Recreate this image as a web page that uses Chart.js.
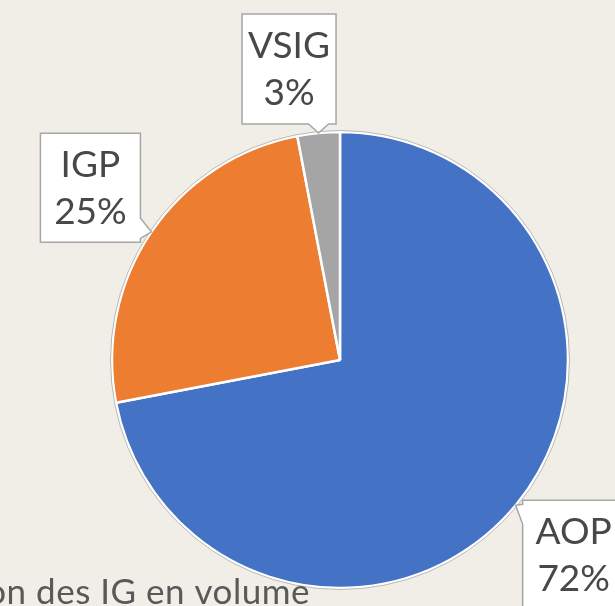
<!DOCTYPE html>
<html>
<head>
<meta charset="utf-8">
<script src="https://cdn.jsdelivr.net/npm/chart.js@4.4.1/dist/chart.umd.min.js"></script>
<style>
  html, body { margin: 0; padding: 0; background: #F1EEE8; }
  #wrap { width: 615px; height: 606px; overflow: hidden; }
</style>
</head>
<body>
<div id="wrap"><canvas id="c" width="615" height="606"></canvas></div>
<script>
// ---- data ----
const categories = ['AOP', 'IGP', 'VSIG'];
const shares = [72, 25, 3];
const percentLabels = ['72%', '25%', '3%'];
const colors = ['#4472C4', '#ED7D31', '#A5A5A5'];
const titleText = 'Répartition des IG en volume';

// callout layout (box center offset from the slice's outer-edge midpoint, and box size)
const calloutLayout = [
  { dx: 58, dy: 50, w: 102, h: 110 },
  { dx: -61, dy: -44, w: 100, h: 109 },
  { dx: -29.5, dy: -64, w: 94, h: 110 }
];

const FONT = 'Lato, "Open Sans", sans-serif';

const outlinePlugin = {
  id: 'outline',
  afterDatasetsDraw(chart) {
    const meta = chart.getDatasetMeta(0);
    const arc = meta.data[0];
    if (!arc) return;
    const ctx = chart.ctx;
    ctx.save();
    ctx.beginPath();
    ctx.arc(arc.x, arc.y, arc.outerRadius + 1.5, 0, Math.PI * 2);
    ctx.strokeStyle = '#B8B8B8';
    ctx.lineWidth = 1;
    ctx.stroke();
    ctx.restore();
  }
};

const calloutPlugin = {
  id: 'callouts',
  afterDraw(chart) {
    const ctx = chart.ctx;
    const meta = chart.getDatasetMeta(0);
    meta.data.forEach((arc, i) => {
      const lay = calloutLayout[i];
      const mid = (arc.startAngle + arc.endAngle) / 2;
      const tx = arc.x + Math.cos(mid) * arc.outerRadius;
      const ty = arc.y + Math.sin(mid) * arc.outerRadius;
      const cx = tx + lay.dx, cy = ty + lay.dy;
      const L = cx - lay.w / 2, R = cx + lay.w / 2, T = cy - lay.h / 2, B = cy + lay.h / 2;
      const hw = 10;
      const clamp = (v, a, b) => Math.max(a, Math.min(b, v));
      ctx.save();
      ctx.beginPath();
      if (ty > B) {
        const bx = clamp(tx, L + hw + 4, R - hw - 4);
        ctx.moveTo(L, T); ctx.lineTo(R, T); ctx.lineTo(R, B);
        ctx.lineTo(bx + hw, B); ctx.lineTo(tx, ty); ctx.lineTo(bx - hw, B);
        ctx.lineTo(L, B); ctx.closePath();
      } else if (tx > R) {
        const by = clamp(ty, T + hw + 4, B - hw - 4);
        ctx.moveTo(L, T); ctx.lineTo(R, T); ctx.lineTo(R, by - hw);
        ctx.lineTo(tx, ty); ctx.lineTo(R, by + hw);
        ctx.lineTo(R, B); ctx.lineTo(L, B); ctx.closePath();
      } else if (tx < L) {
        const by = clamp(ty, T + hw + 4, B - hw - 4);
        ctx.moveTo(L, T); ctx.lineTo(R, T); ctx.lineTo(R, B); ctx.lineTo(L, B);
        ctx.lineTo(L, by + hw); ctx.lineTo(tx, ty); ctx.lineTo(L, by - hw);
        ctx.closePath();
      } else {
        ctx.rect(L, T, lay.w, lay.h);
      }
      ctx.fillStyle = '#FFFFFF';
      ctx.fill();
      ctx.strokeStyle = '#A6A6A6';
      ctx.lineWidth = 1.5;
      ctx.stroke();
      ctx.fillStyle = '#484848';
      ctx.font = '37px ' + FONT;
      ctx.textAlign = 'center';
      ctx.textBaseline = 'alphabetic';
      ctx.fillText(chart.data.labels[i], cx, cy - 11);
      ctx.fillText(percentLabels[i], cx, cy + 36);
      ctx.restore();
    });
    // cut-off title at bottom
    ctx.save();
    ctx.fillStyle = '#595959';
    ctx.font = '35px ' + FONT;
    ctx.letterSpacing = '0.5px';
    ctx.textAlign = 'right';
    ctx.textBaseline = 'alphabetic';
    ctx.fillText(titleText, 310, 604);
    ctx.restore();
  }
};

new Chart(document.getElementById('c'), {
  type: 'pie',
  data: {
    labels: categories,
    datasets: [{
      data: shares,
      backgroundColor: colors,
      borderColor: '#FFFFFF',
      borderWidth: 2.5
    }]
  },
  options: {
    responsive: false,
    animation: false,
    radius: 228,
    layout: { padding: { left: 112, right: 47, top: 132, bottom: 18 } },
    plugins: { legend: { display: false }, tooltip: { enabled: false }, title: { display: false } }
  },
  plugins: [outlinePlugin, calloutPlugin]
});
</script>
</body>
</html>
